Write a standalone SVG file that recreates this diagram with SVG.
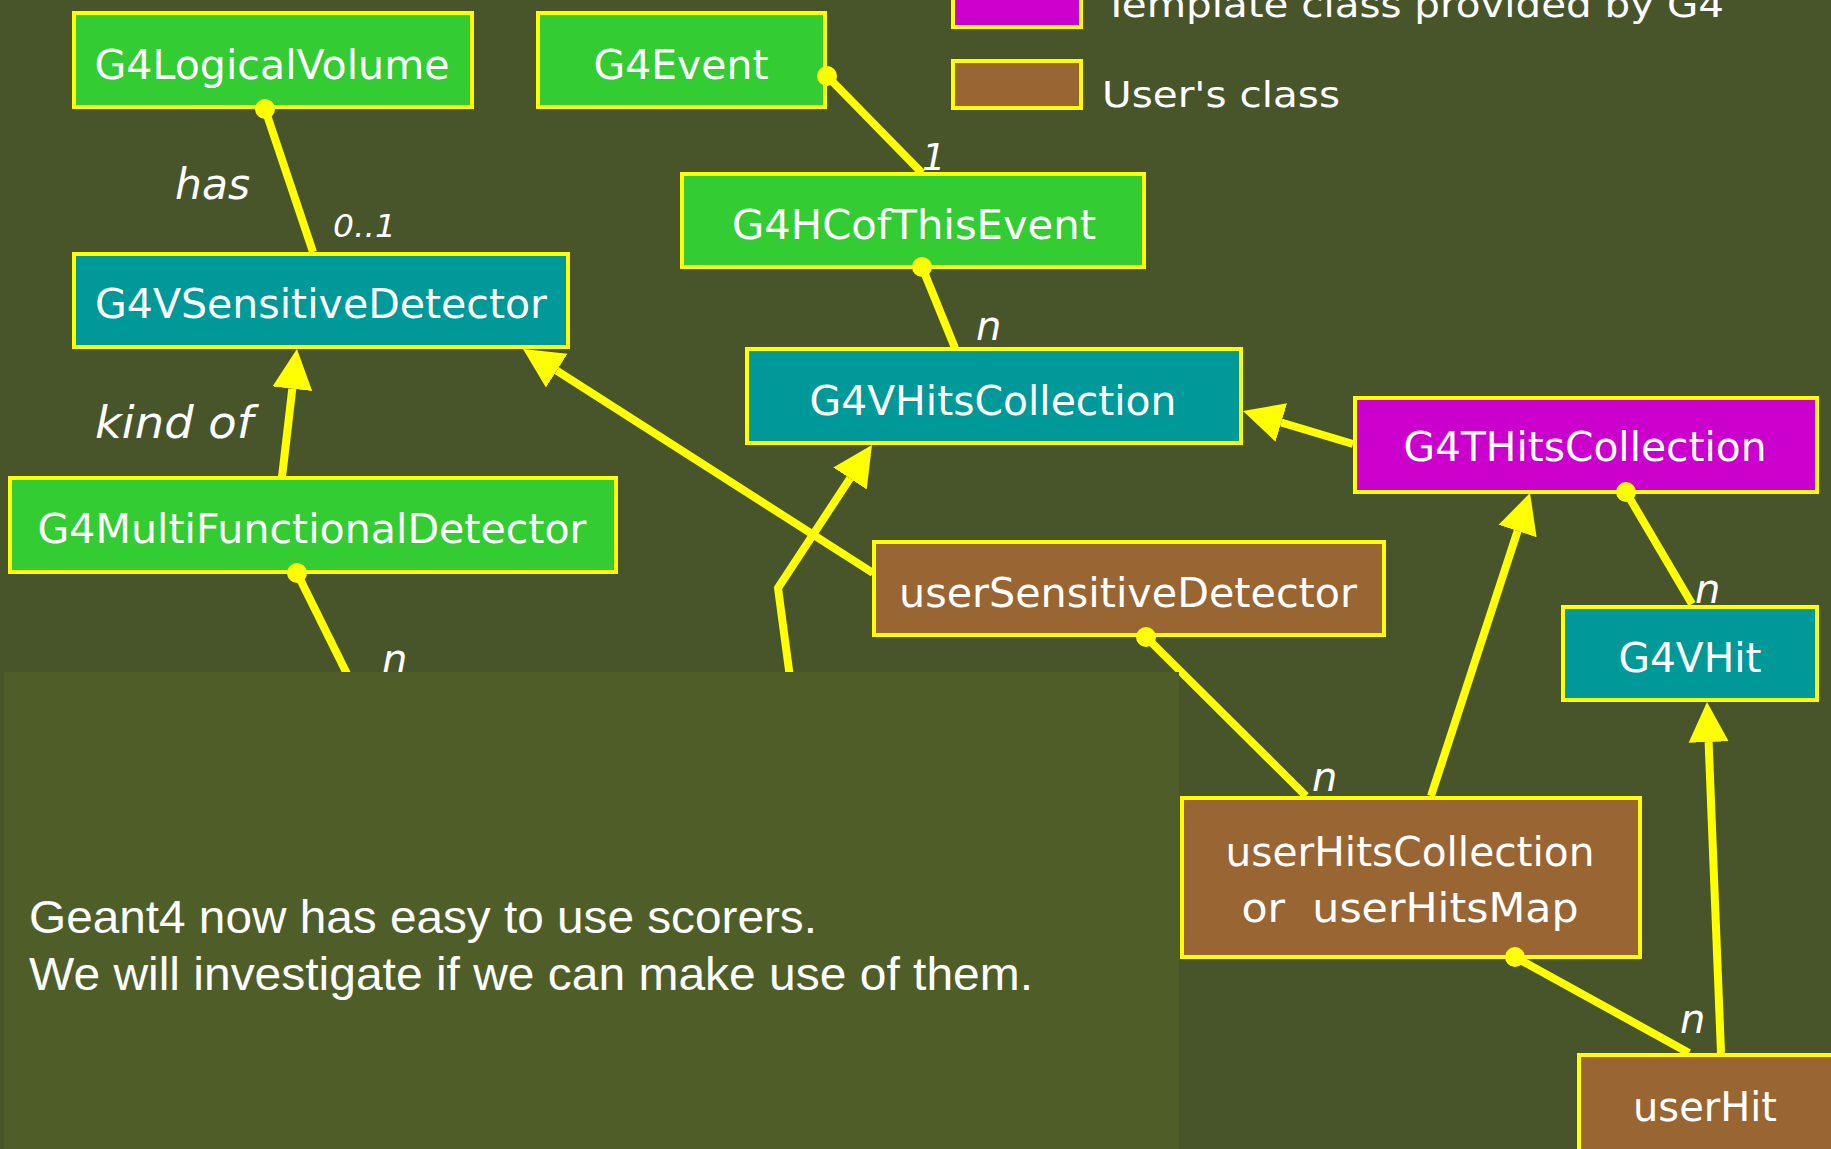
<svg xmlns="http://www.w3.org/2000/svg" width="1831" height="1149" viewBox="0 0 1831 1149">
<style>
.bg{fill:#485429}
.box{stroke:#ffff00;stroke-width:4}
.g{fill:#33cc33}
.t{fill:#009999}
.m{fill:#cc00cc}
.b{fill:#996633}
.lbl{font-family:"DejaVu Sans",Verdana,sans-serif;font-size:40px;fill:#ffffff;text-anchor:middle}
.it{font-family:"DejaVu Sans",sans-serif;font-style:italic;fill:#ffffff}
.leg{font-family:"DejaVu Sans",sans-serif;font-size:36px;fill:#ffffff}
.ln{fill:none;stroke:#ffff00;stroke-width:8;stroke-linejoin:miter}
.ar{marker-end:url(#arr)}
.dot{fill:#ffff00}
.note{font-family:"Liberation Sans",Arial,sans-serif;font-size:46px;fill:#ffffff}
</style>
<defs>
<marker id="arr" markerUnits="userSpaceOnUse" markerWidth="42" markerHeight="44" viewBox="0 -22 42 44" refX="0" refY="0" orient="auto">
<path d="M0,-20 L40,0 L0,20 z" fill="#ffff00"/>
</marker>
</defs>
<rect class="bg" x="0" y="0" width="1831" height="1149"/>

<g id="legend">
<rect class="box m" x="953" y="-8" width="128" height="35"/>
<text class="leg" x="1104" y="17" textLength="620" lengthAdjust="spacingAndGlyphs">Template class provided by G4</text>
<rect class="box b" x="953" y="61" width="128" height="47"/>
<text class="leg" x="1102" y="107" textLength="238" lengthAdjust="spacingAndGlyphs">User's class</text>
</g>

<g id="n-G4LogicalVolume"><rect class="box g" x="74" y="13" width="398" height="94"/><text class="lbl" x="272" y="79" textLength="355" lengthAdjust="spacingAndGlyphs">G4LogicalVolume</text></g>
<g id="n-G4Event"><rect class="box g" x="538" y="13" width="287" height="94"/><text class="lbl" x="681" y="79" textLength="175" lengthAdjust="spacingAndGlyphs">G4Event</text></g>
<g id="n-G4HCofThisEvent"><rect class="box g" x="682" y="174" width="462" height="93"/><text class="lbl" x="914" y="239" textLength="364" lengthAdjust="spacingAndGlyphs">G4HCofThisEvent</text></g>
<g id="n-G4VSensitiveDetector"><rect class="box t" x="74" y="254" width="494" height="93"/><text class="lbl" x="321" y="318" textLength="452" lengthAdjust="spacingAndGlyphs">G4VSensitiveDetector</text></g>
<g id="n-G4VHitsCollection"><rect class="box t" x="747" y="349" width="494" height="94"/><text class="lbl" x="993" y="415" textLength="367" lengthAdjust="spacingAndGlyphs">G4VHitsCollection</text></g>
<g id="n-G4THitsCollection"><rect class="box m" x="1355" y="398" width="462" height="94"/><text class="lbl" x="1585" y="461" textLength="363" lengthAdjust="spacingAndGlyphs">G4THitsCollection</text></g>
<g id="n-G4MultiFunctionalDetector"><rect class="box g" x="10" y="478" width="606" height="94"/><text class="lbl" x="312" y="543" textLength="549" lengthAdjust="spacingAndGlyphs">G4MultiFunctionalDetector</text></g>
<g id="n-userSensitiveDetector"><rect class="box b" x="874" y="542" width="510" height="93"/><text class="lbl" x="1128" y="607" textLength="458" lengthAdjust="spacingAndGlyphs">userSensitiveDetector</text></g>
<g id="n-G4VHit"><rect class="box t" x="1563" y="607" width="254" height="93"/><text class="lbl" x="1690" y="672" textLength="143" lengthAdjust="spacingAndGlyphs">G4VHit</text></g>
<g id="n-userHitsCollection"><rect class="box b" x="1182" y="798" width="458" height="159"/><text class="lbl" x="1410" y="866" textLength="369" lengthAdjust="spacingAndGlyphs">userHitsCollection</text><text class="lbl" x="1410" y="922" textLength="337" lengthAdjust="spacingAndGlyphs" xml:space="preserve">or  userHitsMap</text></g>
<g id="n-userHit"><rect class="box b" x="1579" y="1055" width="260" height="110"/><text class="lbl" x="1705" y="1121" textLength="144" lengthAdjust="spacingAndGlyphs">userHit</text></g>

<g id="connectors">
<path class="ln" d="M265,109 L313,252"/><circle class="dot" cx="265" cy="109" r="10"/>
<path class="ln" d="M297,573 L355,690"/><circle class="dot" cx="297" cy="573" r="10"/>
<path class="ln" d="M827,76 L922,173"/><circle class="dot" cx="827" cy="76" r="10"/>
<path class="ln" d="M922,267 L955,348"/><circle class="dot" cx="922" cy="267" r="10"/>
<path class="ln" d="M1626,492 L1692,604"/><circle class="dot" cx="1626" cy="492" r="10"/>
<path class="ln" d="M1146,637 L1306,796"/><circle class="dot" cx="1146" cy="637" r="10"/>
<path class="ln" d="M1515,957 L1689,1053"/><circle class="dot" cx="1515" cy="957" r="10"/>
<path class="ln ar" d="M282,477 L292.3,388.7"/>
<path class="ln ar" d="M873,573 L556.7,370.6"/>
<path class="ln ar" d="M793,700 L778,588 L850,478.4"/>
<path class="ln ar" d="M1353,444 L1281.3,422.5"/>
<path class="ln ar" d="M1431,796 L1517.6,531"/>
<path class="ln ar" d="M1721,1053 L1708.6,742"/>
</g>

<g id="labels">
<text class="it" x="175" y="199" font-size="42" textLength="75" lengthAdjust="spacingAndGlyphs">has</text>
<text class="it" x="333" y="237" font-size="32" textLength="63" lengthAdjust="spacingAndGlyphs">0..1</text>
<text class="it" x="95" y="438" font-size="44" textLength="158" lengthAdjust="spacingAndGlyphs">kind of</text>
<text class="it" x="922" y="170" font-size="37">1</text>
<text class="it" x="976" y="340" font-size="40">n</text>
<text class="it" x="1695" y="603" font-size="40">n</text>
<text class="it" x="1312" y="791" font-size="40">n</text>
<text class="it" x="1680" y="1033" font-size="40">n</text>
<text class="it" x="382" y="673" font-size="40">n</text>
</g>

<g id="note">
<rect x="4" y="672" width="1175" height="480" fill="#4f5e28"/>
<text class="note" x="29" y="933" textLength="788" lengthAdjust="spacingAndGlyphs">Geant4 now has easy to use scorers.</text>
<text class="note" x="29" y="990" textLength="1004" lengthAdjust="spacingAndGlyphs">We will investigate if we can make use of them.</text>
</g>
</svg>
